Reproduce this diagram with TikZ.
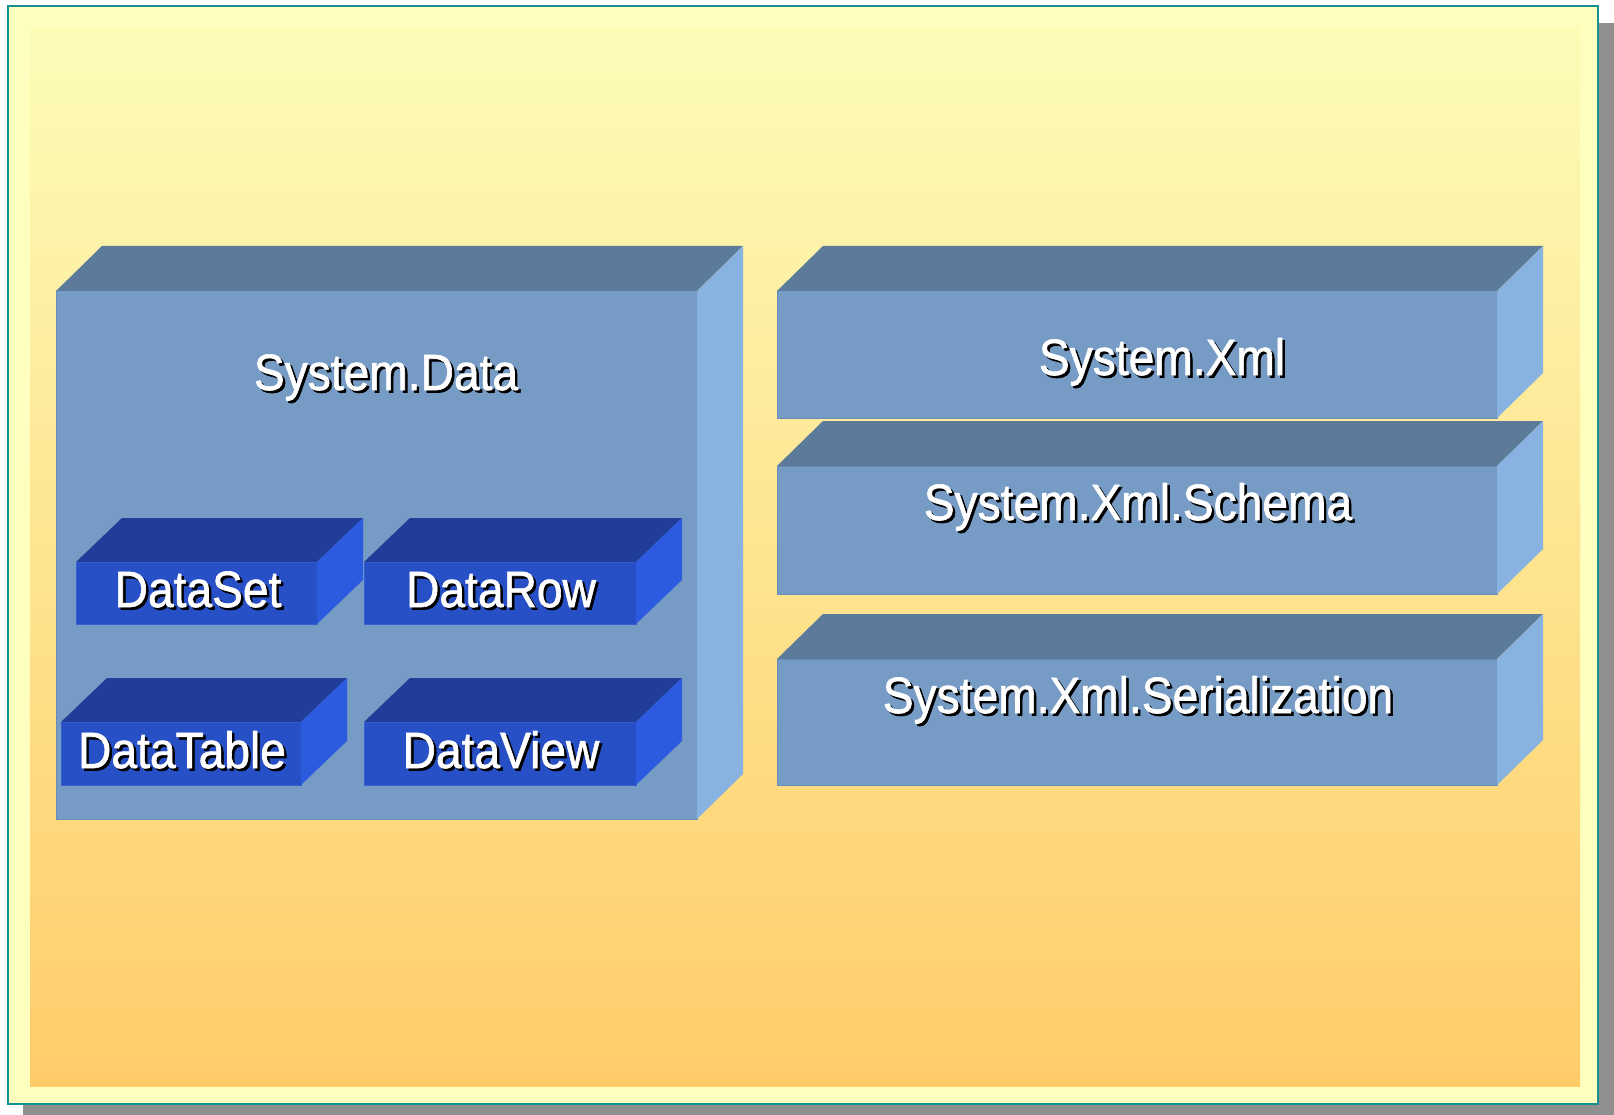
\documentclass[tikz,border=0pt]{standalone}
\usepackage{xcolor}
\usepackage{fontspec}
\usepackage{tikz}
\newfontfamily\slidefont[FakeStretch=0.905, FakeBold=1.2]{Liberation Sans}
\definecolor{framefill}{HTML}{FEFEBE}
\definecolor{frameline}{HTML}{139090}
\definecolor{shadowgrey}{HTML}{8F8F8F}
\definecolor{gradtop}{HTML}{FCFCB7}
\definecolor{gradbot}{HTML}{FFCC69}
\definecolor{nsfront}{HTML}{769CC5}
\definecolor{nstop}{HTML}{5C7A9A}
\definecolor{nsside}{HTML}{88B3E0}
\definecolor{nsedge}{HTML}{6A8DB5}
\definecolor{clsfront}{HTML}{2850C6}
\definecolor{clstop}{HTML}{203D9A}
\definecolor{clsside}{HTML}{2D5BE0}
\definecolor{clsedge}{HTML}{3560D0}
\usetikzlibrary{positioning}
\newcommand{\shadowed}[1]{\makebox[0pt][l]{\kern2.5pt\raisebox{-2.5pt}{\textcolor{black}{#1}}}\textcolor{white}{#1}}

\begin{document}
\begin{tikzpicture}[x=1pt, y=-1pt,
    every node/.style={font=\slidefont\fontsize{51}{60}\selectfont},
    nsbox/.style={rectangle, draw=nsedge, line width=1pt, fill=nsfront, inner sep=0pt, outer sep=0pt, anchor=north west},
    clsbox/.style={rectangle, draw=clsedge, line width=1pt, fill=clsfront, inner sep=0pt, outer sep=0pt, anchor=north west},
    boxlabel/.style={anchor=base, inner sep=0pt}]
    \useasboundingbox (0,0) rectangle (1614,1115);

    % Slide frame
    \fill[shadowgrey] (23,23) rectangle (1614,1115);
    \draw[frameline, line width=2.5pt, fill=framefill] (8,6) rectangle (1598,1104);
    \shade[top color=gradtop, bottom color=gradbot] (30,28) rectangle (1580,1086);

    % Namespaces
    \node[nsbox, minimum width=641, minimum height=528] (data) at (56,291) {};
    \node[nsbox, minimum width=720, minimum height=127] (xml) at (777,291) {};
    \node[nsbox, minimum width=720, minimum height=128] (schema) at (777,466) {};
    \node[nsbox, minimum width=720, minimum height=126] (serial) at (777,659) {};
    \foreach \b in {data,xml,schema,serial}{
        \fill[nstop] (\b.north west) -- ([shift={(46,-45)}]\b.north west) -- ([shift={(46,-45)}]\b.north east) -- (\b.north east) -- cycle;
        \fill[nsside] (\b.north east) -- ([shift={(46,-45)}]\b.north east) -- ([shift={(46,-45)}]\b.south east) -- (\b.south east) -- cycle;
    }

    \node[boxlabel] (datalbl) at (386,390) {\shadowed{System.Data}};
    \node[boxlabel] (xmllbl) at (1162,375) {\shadowed{System.Xml}};
    \node[boxlabel] (schemalbl) at (1138,520) {\shadowed{System.Xml.Schema}};
    \node[boxlabel] (seriallbl) at (1138,713) {\shadowed{System.Xml.Serialization}};

    % Classes
    \node[clsbox, minimum width=241, minimum height=62] (dataset) at (76,562) {};
    \node[clsbox, minimum width=272, minimum height=62] (datarow) at (364,562) {};
    \node[clsbox, minimum width=240, minimum height=63] (datatable) at (61,722) {};
    \node[clsbox, minimum width=272, minimum height=63] (dataview) at (364,722) {};
    \foreach \b in {dataset,datarow,datatable,dataview}{
        \fill[clstop] (\b.north west) -- ([shift={(46,-44)}]\b.north west) -- ([shift={(46,-44)}]\b.north east) -- (\b.north east) -- cycle;
        \fill[clsside] (\b.north east) -- ([shift={(46,-44)}]\b.north east) -- ([shift={(46,-44)}]\b.south east) -- (\b.south east) -- cycle;
    }

    \node[boxlabel] (datasetlbl) at (198,607) {\shadowed{DataSet}};
    \node[boxlabel] (datarowlbl) at (501,607) {\shadowed{DataRow}};
    \node[boxlabel] (datatablelbl) at (182,768) {\shadowed{DataTable}};
    \node[boxlabel] (dataviewlbl) at (501,768) {\shadowed{DataView}};
\end{tikzpicture}
\end{document}
